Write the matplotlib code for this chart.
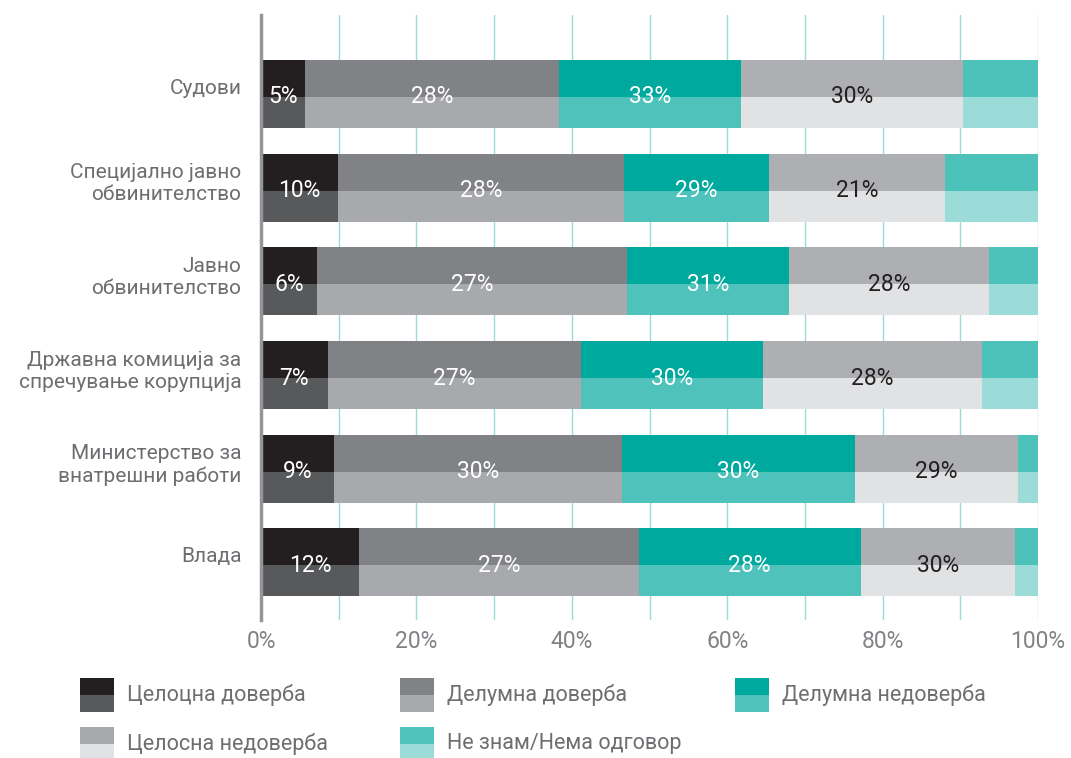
import matplotlib
matplotlib.use("Agg")

import matplotlib.pyplot as plt
from matplotlib.patches import Rectangle
import numpy as np

plt.rcParams["font.family"] = ["Roboto", "DejaVu Sans"]

categories = [
    "Судови",
    "Специјално јавно\nобвинителство",
    "Јавно\nобвинителство",
    "Државна комиција за\nспречување корупција",
    "Министерство за\nвнатрешни работи",
    "Влада",
]
series = [
    "Целоцна доверба",
    "Делумна доверба",
    "Делумна недоверба",
    "Целосна недоверба",
    "Не знам/Нема одговор",
]

# segment widths as drawn (%)
full_trust = [5.7, 9.9, 7.2, 8.6, 9.4, 12.6]
partial_trust = [32.7, 36.8, 39.9, 32.6, 37.1, 36.0]
partial_distrust = [23.4, 18.7, 20.9, 23.4, 29.9, 28.6]
full_distrust = [28.5, 22.6, 25.7, 28.2, 21.0, 19.8]
dont_know = [9.7, 12.0, 6.3, 7.2, 2.6, 3.0]

# printed labels
lab_full_trust = ["5%", "10%", "6%", "7%", "9%", "12%"]
lab_partial_trust = ["28%", "28%", "27%", "27%", "30%", "27%"]
lab_partial_distrust = ["33%", "29%", "31%", "30%", "30%", "28%"]
lab_full_distrust = ["30%", "21%", "28%", "28%", "29%", "30%"]

top_colors = ["#231f20", "#808285", "#00a99d", "#aeafb2", "#4dc2ba"]
bottom_colors = ["#58595b", "#a7a9ac", "#4fc3bb", "#e1e2e3", "#9bdcd8"]
label_colors = ["white", "white", "white", "#231f20", None]

values = [full_trust, partial_trust, partial_distrust, full_distrust, dont_know]
labels = [lab_full_trust, lab_partial_trust, lab_partial_distrust, lab_full_distrust, None]

fig = plt.figure(figsize=(10.71, 7.58), dpi=100)
ax = fig.add_axes([261 / 1071, 1 - 620 / 758, 777 / 1071, 605 / 758])

y = np.arange(len(categories))
half_top = 0.395
half_bot = 0.33
split = 0.032

left = np.zeros(len(categories))
for vals, tc, bc, labs, lc in zip(values, top_colors, bottom_colors, labels, label_colors):
    vals = np.array(vals)
    ax.barh(y + split, vals, left=left, height=-half_top, align="edge",
            color=tc, linewidth=0, zorder=3)
    ax.barh(y + split, vals, left=left, height=half_bot, align="edge",
            color=bc, linewidth=0, zorder=3)
    if labs is not None:
        for yi, l, v, t in zip(y, left, vals, labs):
            ax.text(l + v / 2, yi + split, t, ha="center", va="center",
                    color=lc, fontsize=16.5, zorder=4)
    left = left + vals

ax.set_xlim(0, 100)
ax.set_ylim(5.614, -0.843)

ax.set_xticks(np.arange(0, 101, 10), minor=True)
ax.set_xticks(np.arange(0, 101, 20))
ax.set_xticklabels([f"{v}%" for v in range(0, 101, 20)], color="#808285", fontsize=16.5)
ax.grid(axis="x", which="both", color="#9bdcd8", linewidth=1.0, zorder=0)
ax.tick_params(axis="x", which="both", length=0, pad=7)

ax.set_yticks(y - 0.08)
ax.set_yticklabels(categories, color="#6d6e71", fontsize=15, linespacing=1.2)
ax.tick_params(axis="y", length=0, pad=14)

for s in ["top", "right", "bottom"]:
    ax.spines[s].set_visible(False)
ax.spines["left"].set_color("#939598")
ax.spines["left"].set_linewidth(2.5)
ax.spines["left"].set_zorder(5)

# legend with split swatches
leg_pos = [(80, 678), (400, 678), (735, 678), (80, 727), (400, 727)]
W, H = 1071, 758
for (px, py), name, tc, bc in zip(leg_pos, series, top_colors[:3] + ["#a7a9ac", "#4fc3bb"],
                                  bottom_colors[:3] + ["#e1e2e3", "#9bdcd8"]):
    fig.add_artist(Rectangle((px / W, 1 - (py + 17) / H), 34 / W, 17 / H,
                             transform=fig.transFigure, color=tc, linewidth=0))
    fig.add_artist(Rectangle((px / W, 1 - (py + 34) / H), 34 / W, 17 / H,
                             transform=fig.transFigure, color=bc, linewidth=0))
    fig.text((px + 47) / W, 1 - (py + 17) / H, name, ha="left", va="center",
             color="#6d6e71", fontsize=15.5)

fig.savefig("out.png", dpi=100)
plt.close(fig)
